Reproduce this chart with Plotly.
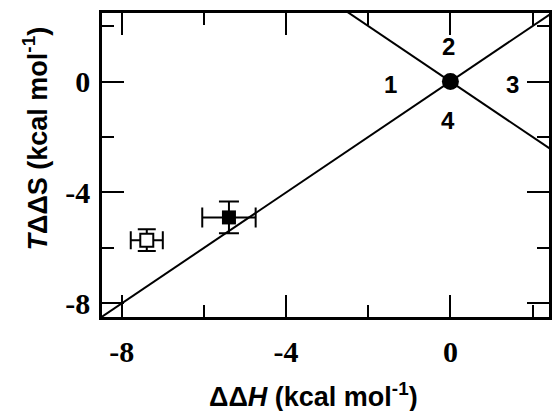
import plotly.graph_objects as go

# Data
origin_x = [0]
origin_y = [0]
filled_x = [-5.39]
filled_y = [-4.90]
filled_xerr = [0.65]
filled_yerr = [0.57]
open_x = [-7.39]
open_y = [-5.72]
open_xerr = [0.39]
open_yerr = [0.39]
diag_up_x = [-10, 4]
diag_up_y = [-10, 4]
diag_down_x = [-4, 4]
diag_down_y = [4, -4]
quad_labels = ["1", "2", "3", "4"]
quad_x = [-1.45, -0.05, 1.5, -0.05]
quad_y = [-0.1, 1.25, -0.1, -1.4]
tick_vals = [-8, -4, 0]
tick_text = ["-8", "-4", "0"]

X_RANGE = [-8.48, 2.40]
Y_RANGE = [-8.49, 2.47]

fig = go.Figure()
fig.add_trace(go.Scatter(x=diag_up_x, y=diag_up_y, mode="lines",
                         line=dict(color="black", width=2), showlegend=False))
fig.add_trace(go.Scatter(x=diag_down_x, y=diag_down_y, mode="lines",
                         line=dict(color="black", width=2), showlegend=False))
fig.add_trace(go.Scatter(x=origin_x, y=origin_y, mode="markers",
                         marker=dict(symbol="circle", size=17, color="black"),
                         showlegend=False))
fig.add_trace(go.Scatter(
    x=filled_x, y=filled_y, mode="markers",
    marker=dict(symbol="square", size=14, color="black"),
    error_x=dict(type="data", array=filled_xerr, color="black", thickness=2, width=10),
    error_y=dict(type="data", array=filled_yerr, color="black", thickness=2, width=10),
    showlegend=False))
fig.add_trace(go.Scatter(
    x=open_x, y=open_y, mode="markers",
    marker=dict(symbol="square", size=13, color="white", line=dict(color="black", width=2)),
    error_x=dict(type="data", array=open_xerr, color="black", thickness=2, width=9),
    error_y=dict(type="data", array=open_yerr, color="black", thickness=2, width=9),
    showlegend=False))

tickfont = dict(family="Liberation Serif", size=30, color="black", weight="bold")

common = dict(tickmode="array", tickvals=tick_vals, ticktext=tick_text,
              ticks="inside", ticklen=22, tickwidth=2, tickcolor="black",
              minor=dict(dtick=2, tick0=0, ticks="inside", ticklen=12, tickwidth=2, tickcolor="black"),
              mirror="allticks", showline=True, linewidth=2.5, linecolor="black",
              showgrid=False, zeroline=False, tickfont=tickfont)
fig.update_xaxes(range=X_RANGE, ticklabelstandoff=6, **common)
fig.update_yaxes(range=Y_RANGE, ticklabelstandoff=3, **common)

labfont = dict(family="Liberation Sans", size=24, color="black", weight="bold")
for t, x, y in zip(quad_labels, quad_x, quad_y):
    fig.add_annotation(x=x, y=y, text=t, showarrow=False, font=labfont,
                       xanchor="center", yanchor="middle")

titlefont = dict(family="Liberation Sans", size=27, color="black", weight="bold")
fig.add_annotation(xref="paper", yref="paper", x=0.473, y=-0.255,
                   text="ΔΔ<i>H</i> (kcal mol<sup>-1</sup>)", showarrow=False,
                   font=titlefont, xanchor="center", yanchor="middle")
fig.add_annotation(xref="paper", yref="paper", x=-0.15, y=0.587,
                   text="<i>T</i>ΔΔS (kcal mol<sup>-1</sup>)", showarrow=False,
                   font=titlefont, xanchor="center", yanchor="middle", textangle=-90)

fig.update_layout(width=552, height=411, margin=dict(l=102, r=0, t=13, b=94),
                  plot_bgcolor="white", paper_bgcolor="white")

fig.write_html("out.html")
